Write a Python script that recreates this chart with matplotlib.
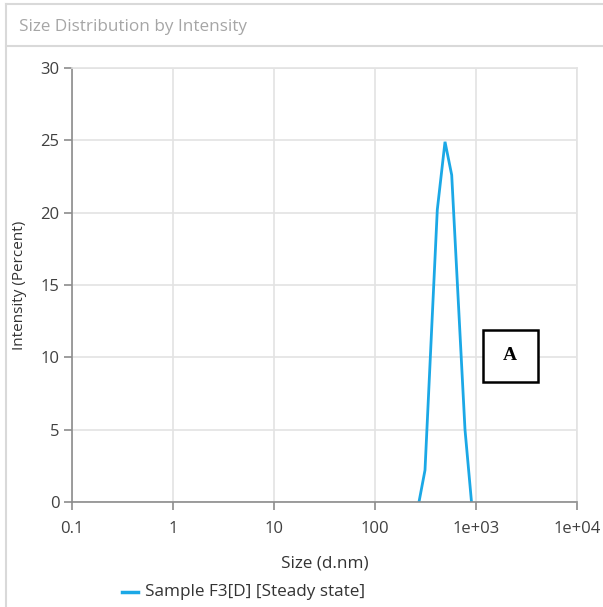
import matplotlib
matplotlib.use("Agg")
import matplotlib.pyplot as plt
from matplotlib.patches import Rectangle
from matplotlib.lines import Line2D

plt.rcParams['font.family'] = ['Open Sans', 'DejaVu Sans']

# Data
sizes = [272.6, 312.6, 413.8, 493.3, 574.7, 778.2, 902.3]
intensity = [0.0, 2.2, 20.2, 24.9, 22.6, 5.0, 0.0]
x_ticks = [0.1, 1, 10, 100, 1000, 10000]
x_tick_labels = ["0.1", "1", "10", "100", "1e+03", "1e+04"]
y_ticks = [0, 5, 10, 15, 20, 25, 30]
series_label = "Sample F3[D] [Steady state]"
title = "Size Distribution by Intensity"
xlabel = "Size (d.nm)"
ylabel = "Intensity (Percent)"

W, H = 603, 607
fig = plt.figure(figsize=(W / 100, H / 100), dpi=100)

# Outer frame lines
fig.add_artist(Line2D([6 / W, 6 / W], [0, 1 - 4 / H], transform=fig.transFigure, color="#d9d9d9", lw=1.5))
fig.add_artist(Line2D([6 / W, 1], [1 - 4 / H, 1 - 4 / H], transform=fig.transFigure, color="#d9d9d9", lw=1.5))
fig.add_artist(Line2D([6 / W, 1], [1 - 46 / H, 1 - 46 / H], transform=fig.transFigure, color="#d9d9d9", lw=1.5))
fig.text(19 / W, 1 - 27 / H, title, color="#a6a6a6", fontsize=12.3, va="center", ha="left")

ax = fig.add_axes([72 / W, 1 - 502 / H, (577 - 72) / W, (502 - 68) / H])
ax.plot(sizes, intensity, color="#1ba8e6", lw=2.0, solid_joinstyle="miter")
ax.set_xscale("log")
ax.set_xlim(0.1, 10000)
ax.set_ylim(0, 30)
ax.set_xticks(x_ticks)
ax.set_xticklabels(x_tick_labels)
ax.set_yticks(y_ticks)
ax.minorticks_off()
ax.grid(True, color="#e3e3e3", lw=1.2)
ax.set_axisbelow(True)
for s in ["top", "right"]:
    ax.spines[s].set_color("#e3e3e3")
    ax.spines[s].set_linewidth(1.2)
for s in ["left", "bottom"]:
    ax.spines[s].set_color("#8c8c8c")
    ax.spines[s].set_linewidth(1.2)
ax.tick_params(axis="both", colors="#8c8c8c", labelcolor="#404040", labelsize=12, length=6, width=1.2)
ax.tick_params(axis="x", pad=8)
ax.tick_params(axis="y", pad=3)
ax.set_xlabel(xlabel, fontsize=12.3, color="#333333", va="center")
ax.set_ylabel(ylabel, fontsize=11, color="#333333", va="center")
ax.xaxis.set_label_coords(0.5, (502 - 563) / 434)
ax.yaxis.set_label_coords((20 - 72) / 505, 0.5)

# Legend
fig.add_artist(Line2D([122 / W, 138 / W], [1 - 592 / H, 1 - 592 / H], transform=fig.transFigure, color="#1ba8e6", lw=2.5))
fig.text(145 / W, 1 - 592 / H, series_label, fontsize=12.3, color="#333333", va="center", ha="left")

# Annotation box "A"
fig.add_artist(Rectangle((483 / W, 1 - 382 / H), 55 / W, 52 / H, transform=fig.transFigure,
                         facecolor="white", edgecolor="black", lw=1.8))
fig.text(510 / W, 1 - 356 / H, "A", family="Liberation Serif", fontweight="bold", fontsize=14,
         ha="center", va="center", color="black")

fig.savefig("out.png", dpi=100)
